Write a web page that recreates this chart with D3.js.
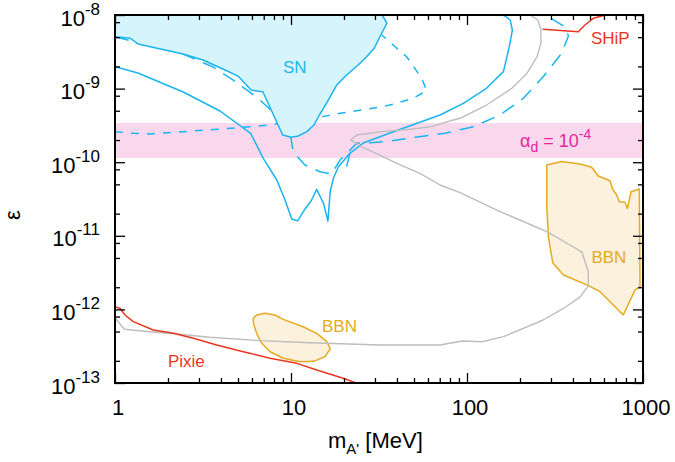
<!DOCTYPE html>
<html lang="en">
<head>
<meta charset="UTF-8">
<title>Dark photon limits</title>
<script src="https://d3js.org/d3.v7.min.js"></script>
<style>
  body { margin: 0; background: #fff; }
  svg text { font-family: 'Liberation Sans', Arial, Helvetica, sans-serif; }
</style>
</head>
<body>
<svg id="chart" width="675" height="462"></svg>
<script>
// all points are [m_A' in MeV, epsilon]
var snBoundary = [[1, 5.07e-9], [1.22, 4.83e-9], [1.35, 4.04e-9], [2.44, 2.95e-9], [3.16, 2.45e-9],
    [4.22, 1.79e-9], [5.0, 1.48e-9], [5.93, 9.57e-10], [6.93, 9.0e-10], [8.97, 2.34e-10],
    [10, 2.18e-10], [11.0, 2.27e-10], [12.3, 2.60e-10], [13.5, 3.20e-10], [14.5, 4.38e-10],
    [15.3, 5.40e-10], [16.5, 7.38e-10], [18.2, 1.12e-9], [20.7, 1.53e-9], [24.1, 2.09e-9],
    [26.9, 2.71e-9], [29.7, 3.53e-9], [32.0, 5.07e-9], [35.1, 7.78e-9], [32.9, 1e-8]];

var snLower = [[1, 1.98e-9], [1.35, 1.63e-9], [2.44, 9.0e-10], [3.95, 4.96e-10], [5.9, 2.47e-10],
    [6.96, 1.13e-10], [8.3, 5.73e-11], [9.25, 3.06e-11], [10.1, 1.69e-11], [10.9, 1.60e-11],
    [11.9, 2.24e-11], [13.0, 2.97e-11], [14.0, 4.28e-11], [15.3, 2.76e-11], [16.2, 1.58e-11],
    [16.7, 3.97e-11], [17.4, 6.04e-11], [18.6, 8.69e-11], [21.6, 1.32e-10], [25.7, 1.82e-10],
    [36.5, 2.49e-10], [70.3, 4.38e-10], [95.3, 6.31e-10], [129, 1.01e-9], [161, 1.70e-9],
    [174, 3.71e-9], [181, 6.25e-9], [176, 8.55e-9], [164, 9.69e-9], [160, 1e-8]];

var snSpur = [[21.6, 1.32e-10], [20.7, 8.69e-11]];

var snDashed = [[1, 5.07e-9], [2.44, 2.95e-9], [2.91, 2.45e-9], [3.6, 1.97e-9], [4.68, 1.31e-9],
    [6.49, 7.45e-10], [8.55, 3.98e-10], [10, 2.13e-10], [10.3, 1.38e-10], [12.0, 9.16e-11],
    [14.6, 7.43e-11], [17.0, 6.91e-11], [19.0, 1.07e-10], [23.7, 1.82e-10], [28.1, 1.84e-10],
    [34.2, 1.90e-10], [50.7, 2.18e-10], [75, 2.47e-10], [109, 3.04e-10], [154, 4.38e-10],
    [209, 7.38e-10], [271, 1.45e-9], [345, 3.02e-9], [377, 5.17e-9], [360, 6.87e-9],
    [305, 8.82e-9], [266, 1e-8]];

var snShortDashed = [[1, 2.60e-10], [1.27, 2.47e-10], [1.58, 2.42e-10], [2.44, 2.60e-10],
    [3.8, 2.80e-10], [5.85, 3.04e-10], [7.43, 3.20e-10], [14.9, 4.15e-10], [19.0, 4.62e-10],
    [26.9, 5.23e-10], [36.5, 5.98e-10], [49.5, 7.38e-10], [59, 9.37e-10], [55.3, 1.38e-9],
    [45.4, 2.71e-9], [38.1, 3.91e-9], [32.8, 5.35e-9]];

var grayLine = [[1, 7.64e-13], [1.13, 5.37e-13], [1.58, 4.98e-13], [2.24, 4.63e-13], [3.47, 4.18e-13],
    [6.67, 3.76e-13], [12.8, 3.53e-13], [32, 3.28e-13], [70.3, 3.28e-13], [93.7, 3.72e-13],
    [122, 3.64e-13], [161, 4.26e-13], [271, 7.18e-13], [353, 1.03e-12], [438, 1.47e-12],
    [489, 2.08e-12], [489, 3.25e-12], [450, 6.02e-12], [360, 8.24e-12], [284, 1.14e-11],
    [200, 1.64e-11], [154, 2.13e-11], [91.3, 3.85e-11], [70.3, 4.90e-11], [54.1, 7.07e-11],
    [39.9, 9.66e-11], [32, 1.25e-10], [25.2, 1.62e-10], [21.9, 2.0e-10], [23.6, 2.34e-10],
    [32.8, 2.60e-10], [47.5, 2.80e-10], [63, 3.04e-10], [83.6, 3.74e-10], [91.3, 3.95e-10],
    [129, 5.98e-10], [180, 1.01e-9], [219, 1.61e-9], [250, 2.71e-9], [263, 4.12e-9],
    [263, 6.25e-9], [253, 8.55e-9], [228, 1e-8]];

var shipLine = [[269, 6.39e-9], [429, 5.93e-9], [468, 7.31e-9], [522, 9.02e-9], [583, 9.69e-9], [616, 1e-8]];

var pixieLine = [[1, 1.09e-12], [1.07, 1.03e-12], [1.14, 8.39e-13], [1.27, 6.81e-13], [1.65, 5.25e-13],
    [2.15, 4.73e-13], [2.79, 4.05e-13], [3.78, 3.28e-13], [5.36, 2.66e-13], [7.6, 2.17e-13],
    [10.8, 1.85e-13], [14, 1.50e-13], [19.8, 1.16e-13], [23.4, 1e-13]];

var bbnLow = [[6.11, 7.57e-13], [6.38, 8.39e-13], [7.12, 8.85e-13], [8.11, 8.39e-13], [9.04, 7.33e-13],
    [11.7, 5.82e-13], [14, 4.73e-13], [16, 3.64e-13], [16.7, 2.90e-13], [15.6, 2.28e-13],
    [13.5, 1.97e-13], [11.25, 1.95e-13], [9.04, 2.17e-13], [7.6, 2.66e-13], [6.82, 3.46e-13],
    [6.38, 4.73e-13], [6.11, 6.47e-13]];

var bbnHigh = [[284, 9.16e-11], [345, 1.02e-10], [438, 9.45e-11], [511, 8.53e-11], [557, 6.49e-11],
    [649, 5.60e-11], [673, 4.28e-11], [709, 3.58e-11], [733, 2.91e-11], [790, 2.85e-11],
    [817, 2.36e-11], [855, 3.97e-11], [953, 4.32e-11], [962, 2.03e-12], [900, 1.83e-12],
    [773, 8.39e-13], [649, 1.27e-12], [570, 1.74e-12], [479, 2.15e-12], [353, 2.93e-12],
    [307, 4.31e-12], [290, 9.72e-12], [284, 2.49e-11]];

var alphaBand = [1.14e-10, 3.4e-10];

var xMajor = [1, 10, 100, 1000];
var xLabels = ["1", "10", "100", "1000"];
var yMajor = [1e-13, 1e-12, 1e-11, 1e-10, 1e-9, 1e-8];
var yExponents = ["-13", "-12", "-11", "-10", "-9", "-8"];

var blue = "#1ab4ef", red = "#e8361f", orange = "#e6aa22", gray = "#bdbdbd";

var margin = {top: 15, right: 32, bottom: 79, left: 115};
var width = 675 - margin.left - margin.right;
var height = 462 - margin.top - margin.bottom;

var x = d3.scaleLog().domain([1, 1000]).range([0, width]);
var y = d3.scaleLog().domain([1e-13, 1e-8]).range([height, 0]);

var svg = d3.select("#chart");
var g = svg.append("g").attr("transform", "translate(" + margin.left + "," + margin.top + ")");

g.append("clipPath").attr("id", "clip")
    .append("rect").attr("width", width).attr("height", height);

var plot = g.append("g").attr("clip-path", "url(#clip)");

var line = d3.line().x(function (d) { return x(d[0]); }).y(function (d) { return y(d[1]); });

// alpha_d band
plot.append("rect")
    .attr("x", 0).attr("width", width)
    .attr("y", y(alphaBand[1]))
    .attr("height", y(alphaBand[0]) - y(alphaBand[1]))
    .attr("fill", "#f9d8ee");

function drawLine(data, color, dash, w) {
    plot.append("path")
        .attr("d", line(data))
        .attr("fill", "none")
        .attr("stroke", color)
        .attr("stroke-width", w || 1.5)
        .attr("stroke-dasharray", dash || null)
        .attr("stroke-linejoin", "round");
}

drawLine(snShortDashed, blue, "8,8");
drawLine(snDashed, blue, "14,9");

// SN excluded region, filled up to the top of the frame
var snFill = [[x.domain()[0], y.domain()[1]]].concat(snBoundary);
plot.append("path")
    .attr("d", line(snFill) + "Z")
    .attr("fill", "#d6f4fc")
    .attr("stroke", "none");
drawLine(snBoundary, blue);
drawLine(snLower, blue);
drawLine(snSpur, blue);

// BBN regions
[bbnLow, bbnHigh].forEach(function (poly) {
    plot.append("path")
        .attr("d", line(poly) + "Z")
        .attr("fill", "#fcf1dc")
        .attr("stroke", orange)
        .attr("stroke-width", 1.5)
        .attr("stroke-linejoin", "round");
});

drawLine(grayLine, gray, null, 1.4);
drawLine(shipLine, red);
drawLine(pixieLine, red);

// labels
function label(txt, m, e, color, anchor) {
    return g.append("text")
        .attr("x", x(m)).attr("y", y(e))
        .attr("fill", color)
        .attr("font-size", 17)
        .attr("text-anchor", anchor || "start")
        .text(txt);
}
label("SN", 10.5, 1.63e-9, blue, "middle");
label("BBN", 15, 4.9e-13, orange);
label("BBN", 640, 4.3e-12, orange, "middle");
label("Pixie", 2.0, 1.65e-13, red);
label("SHiP", 506, 4.04e-9, red);

var al = g.append("text")
    .attr("x", x(200)).attr("y", y(1.62e-10))
    .attr("fill", "#e2279c")
    .attr("font-size", 18);
al.append("tspan").text("\u03b1");
al.append("tspan").attr("font-size", 14).attr("dy", 5).text("d");
al.append("tspan").attr("dy", -5).text(" = 10");
al.append("tspan").attr("font-size", 14).attr("dy", -8).text("-4");

// ticks on all four sides, pointing inward
function minorTicks(scale, mult) {
    var out = [];
    var dom = scale.domain();
    for (var p = Math.log10(dom[0]); p < Math.log10(dom[1]); p++) {
        mult.forEach(function (k) { out.push(k * Math.pow(10, p)); });
    }
    return out;
}
var xMinor = minorTicks(x, [2, 3, 4, 5, 6, 7, 8, 9]);
var yMinor = minorTicks(y, [2, 5, 8]);

function addAxis(gen, tickVals, size, transform) {
    var a = g.append("g")
        .attr("transform", transform || null)
        .call(gen.tickValues(tickVals).tickSize(-size).tickFormat(""));
    a.select(".domain").remove();
    a.selectAll(".tick line").attr("stroke", "#000").attr("stroke-width", 1.3);
}
addAxis(d3.axisBottom(x), xMajor, 10, "translate(0," + height + ")");
addAxis(d3.axisBottom(x), xMinor, 5, "translate(0," + height + ")");
addAxis(d3.axisTop(x), xMajor, 10);
addAxis(d3.axisTop(x), xMinor, 5);
addAxis(d3.axisLeft(y), yMajor, 10);
addAxis(d3.axisLeft(y), yMinor, 5);
addAxis(d3.axisRight(y), yMajor, 10, "translate(" + width + ",0)");
addAxis(d3.axisRight(y), yMinor, 5, "translate(" + width + ",0)");

g.append("rect")
    .attr("width", width).attr("height", height)
    .attr("fill", "none").attr("stroke", "#000").attr("stroke-width", 2);

// tick labels
g.selectAll(".xlab").data(xMajor).enter().append("text")
    .attr("class", "xlab")
    .attr("x", function (d) { return x(d) + 3; })
    .attr("y", height + 32)
    .attr("text-anchor", "middle")
    .attr("font-size", 22)
    .text(function (d, i) { return xLabels[i]; });

var ylab = g.selectAll(".ylab").data(yMajor).enter().append("text")
    .attr("class", "ylab")
    .attr("x", -15)
    .attr("y", function (d) { return y(d) + 10.5; })
    .attr("text-anchor", "end")
    .attr("font-size", 22);
ylab.append("tspan").text("10");
ylab.append("tspan").attr("font-size", 17).attr("dy", -11)
    .text(function (d, i) { return yExponents[i]; });

// axis titles
var xt = g.append("text")
    .attr("x", 213).attr("y", height + 65)
    .attr("font-size", 22);
xt.append("tspan").text("m");
xt.append("tspan").attr("font-size", 15).attr("dy", 6).text("A'");
xt.append("tspan").attr("dy", -6).text(" [MeV]");

g.append("text")
    .attr("transform", "translate(" + (-95) + "," + (height / 2 + 16) + ") rotate(-90)")
    .attr("text-anchor", "middle")
    .attr("font-size", 22)
    .text("\u03b5");
</script>
</body>
</html>
